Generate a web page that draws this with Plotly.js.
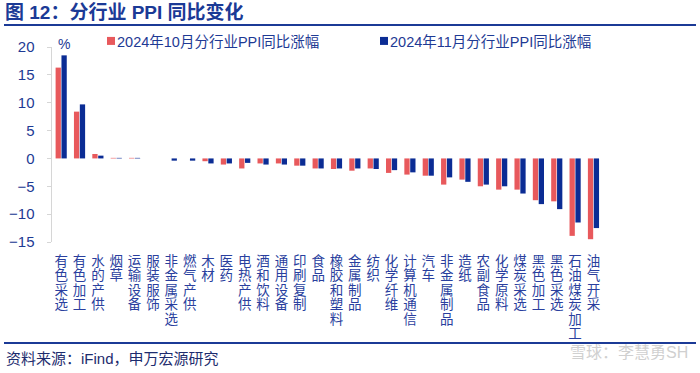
<!DOCTYPE html>
<html>
<head>
<meta charset="utf-8">
<script src="https://cdn.plot.ly/plotly-3.0.1.min.js"></script>
<style>html,body{margin:0;padding:0;background:#fff;}#chart{width:700px;height:373px;}</style>
</head>
<body>
<div id="chart"></div>
<script>
const categories = ['有色采选','有色加工','水的产供','烟草','运输设备','服装服饰','非金属采选','燃气产供','木材','医药','电热产供','酒和饮料','通用设备','印刷复制','食品','橡胶和塑料','金属制品','纺织','化学纤维','计算机通信','汽车','非金属制品','造纸','农副食品','化学原料','煤炭采选','黑色加工','黑色采选','石油煤炭加工','油气开采'];
const octValues = [16.3, 8.4, 0.8, 0.1, 0.1, 0, 0, 0, -0.5, -1.1, -1.8, -0.9, -0.9, -1.3, -1.8, -1.9, -2.2, -1.8, -2.6, -2.9, -3.1, -4.7, -3.8, -5.0, -5.6, -5.6, -7.5, -7.7, -13.9, -14.5];
const novValues = [18.5, 9.7, 0.5, 0.1, 0.1, 0, -0.4, -0.4, -0.9, -0.9, -0.8, -1.1, -1.1, -1.3, -1.8, -1.8, -1.8, -1.9, -2.1, -2.5, -3.1, -3.4, -4.2, -4.7, -5.0, -6.3, -8.2, -9.1, -11.5, -12.5];
const seriesNames = ['2024年10月分行业PPI同比涨幅', '2024年11月分行业PPI同比涨幅'];
const yTickValues = [-15, -10, -5, 0, 5, 10, 15, 20];

const NAVY = '#1E3A94';
const FONT = 'Arial, "Liberation Sans", "Noto Sans CJK SC", sans-serif';
const tickText = categories.map(c => c.split('').join('<br>'));
const yMin = -15, yMax = 20;
const nSlots = categories.length + 1;

const traces = [
  {type: 'bar', name: seriesNames[0], x: categories, y: octValues,
   marker: {color: '#E8595C'}, legend: 'legend', hoverinfo: 'skip'},
  {type: 'bar', name: seriesNames[1], x: categories, y: novValues,
   marker: {color: '#0B2C94'}, legend: 'legend2', hoverinfo: 'skip'}
];

const L = 52, R = 79, T = 47, B = 131, W = 700, H = 373;
const pw = W - L - R, ph = H - T - B;
const px = v => (v - L) / pw;
const py = v => (H - B - v) / ph;

const layout = {
  width: W, height: H,
  margin: {l: L, r: R, t: T, b: B, pad: 0},
  paper_bgcolor: '#fff', plot_bgcolor: '#fff',
  font: {family: FONT, color: NAVY, size: 13},
  barmode: 'group', bargap: 0.36, bargroupgap: 0.1,
  title: {text: '图 12：分行业 PPI 同比变化', xref: 'container', yref: 'container',
    x: 5 / W, xanchor: 'left', y: 1 - 12 / H, yanchor: 'middle',
    font: {size: 19, weight: 'bold', color: '#1B3A96', family: FONT}},
  xaxis: {type: 'category', range: [-0.5, nSlots - 0.5], tickvals: categories, ticktext: tickText,
    tickangle: 0, showline: false, showgrid: false, zeroline: false, ticks: '',
    ticklabelstandoff: 9, tickfont: {size: 13.5, color: '#2A3F9E', family: FONT}, fixedrange: true},
  xaxis2: {overlaying: 'x', anchor: 'free', position: (0 - yMin) / (yMax - yMin), type: 'linear',
    range: [-0.5, nSlots - 0.5], tick0: -0.5, dtick: 1, ticks: 'outside', ticklen: 4,
    tickcolor: '#D6D6D6', tickwidth: 1, showline: true, linecolor: '#D6D6D6', linewidth: 1.5,
    showticklabels: false, showgrid: false, zeroline: false},
  yaxis: {range: [yMin, yMax], tickvals: yTickValues, showline: true, linecolor: '#D6D6D6', linewidth: 1.5,
    ticks: 'outside', ticklen: 4, tickcolor: '#D6D6D6', showgrid: false, zeroline: false,
    ticklabelstandoff: 9, tickfont: {size: 15, color: NAVY, family: FONT}, fixedrange: true},
  legend: {x: px(77), xanchor: 'left', y: py(41), yanchor: 'middle', orientation: 'h',
    bgcolor: 'rgba(0,0,0,0)', font: {size: 14.5, color: NAVY, family: FONT}},
  legend2: {x: px(350), xanchor: 'left', y: py(41), yanchor: 'middle', orientation: 'h',
    bgcolor: 'rgba(0,0,0,0)', font: {size: 14.5, color: NAVY, family: FONT}},
  shapes: [
    {type: 'line', xref: 'paper', yref: 'paper', x0: px(4), x1: px(696), y0: py(25), y1: py(25),
     line: {color: '#1B3A96', width: 2}},
    {type: 'line', xref: 'paper', yref: 'paper', x0: px(4), x1: px(696), y0: py(343), y1: py(343),
     line: {color: '#1B3A96', width: 2}}
  ],
  annotations: [
    {text: '%', xref: 'paper', yref: 'paper', x: px(64), y: py(44), xanchor: 'center', yanchor: 'middle',
     showarrow: false, font: {size: 14, color: NAVY, family: FONT}},
    {text: '资料来源：iFind，申万宏源研究', xref: 'paper', yref: 'paper', x: px(4), y: py(358),
     xanchor: 'left', yanchor: 'middle', showarrow: false, font: {size: 15, color: '#1D2C6E', family: FONT}},
    {text: '雪球：李慧勇SH', xref: 'paper', yref: 'paper', x: px(690), y: py(352),
     xanchor: 'right', yanchor: 'middle', showarrow: false, font: {size: 16, color: '#D0D0D0', family: FONT}}
  ],
  showlegend: true
};

Plotly.newPlot('chart', traces, layout, {displayModeBar: false, staticPlot: true}).then(gd => {
  // tighten line spacing for the vertical category labels
  gd.querySelectorAll('.xtick text').forEach(t => {
    t.querySelectorAll('tspan.line').forEach(s => {
      const dy = parseFloat(s.getAttribute('dy') || '0');
      const n = Math.round(dy / 1.3);
      s.setAttribute('dy', (n * 1.08) + 'em');
    });
  });
  // smaller legend swatches placed right next to the text
  gd.querySelectorAll('.legendpoints path').forEach(p => {
    p.setAttribute('d', 'M4,4H-4V-4H4Z');
    p.setAttribute('transform', 'translate(34,0)');
  });
});
</script>
</body>
</html>
